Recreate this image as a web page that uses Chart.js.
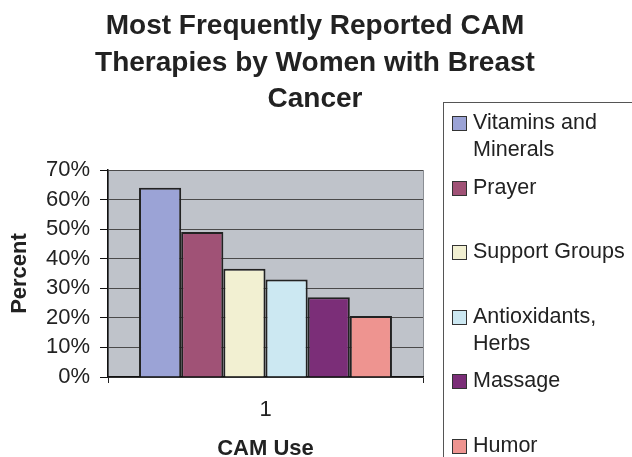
<!DOCTYPE html>
<html>
<script src="https://cdn.jsdelivr.net/npm/chart.js@4/dist/chart.umd.min.js"></script>
<style>
  body { margin: 0; background: #fff; overflow: hidden; font-family: 'Liberation Sans', Arial, sans-serif; color: #222; }
  #wrap { position: relative; width: 632px; height: 457px; overflow: hidden; }
  #title { position: absolute; left: 15px; width: 600px; top: 7px; text-align: center; font-weight: bold; font-size: 28px; line-height: 36.5px; white-space: nowrap; }
  #legend { position: absolute; left: 443px; top: 102px; width: 220px; height: 400px; border: 1px solid #555; box-sizing: border-box; }
  .item { position: absolute; left: 8px; width: 180px; font-size: 21.5px; line-height: 27px; }
  .item span.sw { position: absolute; left: 0; top: 7px; width: 13px; height: 13px; border: 1px solid #333; }
  .item span.tx { display: block; margin-left: 21px; width: 162px; }
</style>
<body>

<div id="wrap">
  <canvas id="myChart" width="632" height="457"></canvas>
  <div id="title"></div>
  <div id="legend"></div>
</div>

<script>

const titleLines = ["Most Frequently Reported CAM", "Therapies by Women with Breast", "Cancer"];
const xLabels = ["1"];
const therapies = ["Vitamins and Minerals", "Prayer", "Support Groups", "Antioxidants, Herbs", "Massage", "Humor"];
const percents = [64, 49, 36.6, 33, 27, 20.6];
const barColors = ["#9ba3d6", "#a05276", "#f2f0d2", "#cce8f2", "#7b2e78", "#ee9490"];

document.getElementById("title").innerHTML = titleLines.join("<br>");

// legend drawn in html so the long names can wrap like the original
const legendBox = document.getElementById("legend");
for (let i = 0; i < therapies.length; i++) {
    const d = document.createElement("div");
    d.className = "item";
    d.style.top = (6 + i * 64.5) + "px";
    d.innerHTML = '<span class="sw" style="background:' + barColors[i] + '"></span><span class="tx">' + therapies[i] + '</span>';
    legendBox.appendChild(d);
}

Chart.defaults.font.family = "'Liberation Sans', Arial, sans-serif";
Chart.defaults.color = "#222";

const plotBg = {
    id: "plotBg",
    beforeDraw(chart) {
        const a = chart.chartArea;
        chart.ctx.save();
        chart.ctx.fillStyle = "#bfc3ca";
        chart.ctx.fillRect(a.left, a.top, a.right - a.left, a.bottom - a.top);
        chart.ctx.restore();
    }
};

const myChart = new Chart("myChart", {
  type: "bar",
  data: {
    labels: xLabels,
    datasets: therapies.map((t, i) => ({
      label: t,
      data: [percents[i]],
      backgroundColor: barColors[i],
      borderColor: "#222",
      borderWidth: 2,
      categoryPercentage: 0.803,
      barPercentage: 1
    }))
  },
  options: {
    responsive: false,
    animation: false,
    layout: { padding: { top: 170, right: 209, left: 0, bottom: 0 } },
    plugins: {
      legend: { display: false },
      title: { display: false },
      tooltip: { enabled: false }
    },
    scales: {
      x: {
        afterFit: (s) => { s.height = 80; },
        grid: { color: "#8a8e94", tickColor: "#222", tickLength: 6, lineWidth: 1 },
        border: { color: "#111", width: 1.5 },
        ticks: { font: { size: 22 }, padding: 14, color: "#222" },
        title: { display: true, text: "CAM Use", font: { size: 22, weight: "bold", lineHeight: 0.7 }, padding: { top: 0, bottom: 0 }, color: "#222" }
      },
      y: {
        min: 0,
        max: 70,
        afterFit: (s) => { s.width = 108; },
        grid: { color: "#4a4a4a", tickColor: "#111", tickLength: 8, lineWidth: 1 },
        border: { color: "#111", width: 1.5 },
        ticks: { stepSize: 10, font: { size: 22 }, padding: 10, color: "#222", callback: (v) => v + "%" },
        title: { display: true, text: "Percent", font: { size: 22, weight: "bold" }, padding: { top: 7, bottom: 0 }, color: "#222" }
      }
    }
  },
  plugins: [plotBg]
});

</script>

</body>
</html>
